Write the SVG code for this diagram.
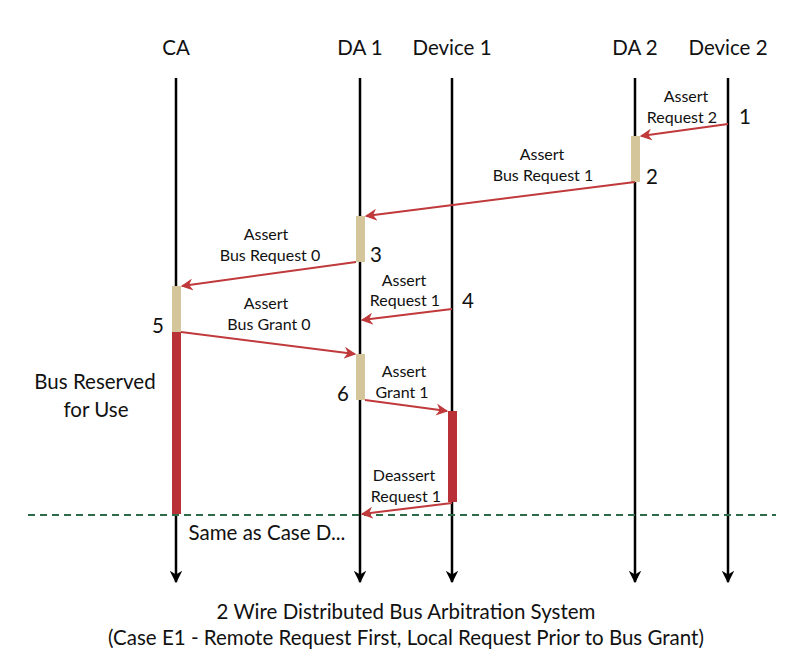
<svg xmlns="http://www.w3.org/2000/svg" width="804" height="664" viewBox="0 0 804 664">
<style>
text{font-family:Lato,"Open Sans","Liberation Sans",sans-serif;fill:#111;text-anchor:middle}
.h{font-size:20.5px}
.l{font-size:16px}
.n{font-size:20.5px}
.t{font-size:20.5px}
.life{stroke:#000;stroke-width:2.5}
.msg{stroke:#c0393b;stroke-width:2;fill:none}
.act{fill:#d4c59a}
.busy{fill:#b93036}
</style>
<defs>
<marker id="bk" viewBox="0 0 10 10" refX="9" refY="5" markerWidth="5" markerHeight="5" orient="auto" markerUnits="strokeWidth"><path d="M0,0 L10,5 L0,10 L3,5 Z" fill="#000"/></marker>
<marker id="rd" viewBox="0 0 10 10" refX="9" refY="5" markerWidth="6" markerHeight="6" orient="auto" markerUnits="strokeWidth"><path d="M0,0 L10,5 L0,10 L3,5 Z" fill="#c0393b"/></marker>
</defs>
<g id="lifelines">
<g id="ca"><text class="h" x="176" y="55">CA</text><line class="life" x1="176" y1="78" x2="176" y2="582" marker-end="url(#bk)"/></g>
<g id="da1"><text class="h" x="360" y="55">DA 1</text><line class="life" x1="360" y1="78" x2="360" y2="582" marker-end="url(#bk)"/></g>
<g id="dev1"><text class="h" x="452" y="55">Device 1</text><line class="life" x1="452" y1="78" x2="452" y2="582" marker-end="url(#bk)"/></g>
<g id="da2"><text class="h" x="635" y="55">DA 2</text><line class="life" x1="635" y1="78" x2="635" y2="582" marker-end="url(#bk)"/></g>
<g id="dev2"><text class="h" x="728" y="55">Device 2</text><line class="life" x1="728" y1="78" x2="728" y2="582" marker-end="url(#bk)"/></g>
</g>
<g id="activations">
<rect class="act" x="631" y="136" width="9" height="46"/>
<rect class="act" x="356" y="216" width="9" height="46"/>
<rect class="act" x="172" y="286" width="9" height="46"/>
<rect class="act" x="356" y="354" width="9" height="46"/>
<rect class="busy" x="172" y="332" width="9" height="182"/>
<rect class="busy" x="448" y="411" width="9" height="91"/>
</g>
<line x1="28" y1="515" x2="776" y2="515" stroke="#2e6b4a" stroke-width="2" stroke-dasharray="7,5"/>
<g id="connectors">
<line class="msg" x1="728" y1="124" x2="641" y2="136" marker-end="url(#rd)"/>
<line class="msg" x1="635" y1="182" x2="366" y2="216" marker-end="url(#rd)"/>
<line class="msg" x1="356" y1="262" x2="182" y2="286" marker-end="url(#rd)"/>
<line class="msg" x1="452" y1="309" x2="362" y2="320" marker-end="url(#rd)"/>
<line class="msg" x1="181" y1="332" x2="355" y2="354" marker-end="url(#rd)"/>
<line class="msg" x1="365" y1="400" x2="447" y2="411" marker-end="url(#rd)"/>
<line class="msg" x1="452" y1="503" x2="362" y2="514" marker-end="url(#rd)"/>
</g>
<g id="labels">
<text class="l" x="686" y="102">Assert</text><text class="l" x="682" y="123">Request 2</text><text class="n" x="745" y="124">1</text>
<text class="l" x="542" y="160">Assert</text><text class="l" x="543" y="181">Bus Request 1</text><text class="n" x="652" y="184">2</text>
<text class="l" x="266" y="240">Assert</text><text class="l" x="270" y="261">Bus Request 0</text><text class="n" x="376" y="262">3</text>
<text class="l" x="404" y="286">Assert</text><text class="l" x="405" y="306">Request 1</text><text class="n" x="468" y="308">4</text>
<text class="l" x="266" y="309">Assert</text><text class="l" x="269" y="330">Bus Grant 0</text><text class="n" x="158" y="333">5</text>
<text class="l" x="404" y="377">Assert</text><text class="l" x="402" y="398">Grant 1</text><text class="n" x="343" y="401">6</text>
<text class="l" x="404" y="481">Deassert</text><text class="l" x="406" y="502">Request 1</text>
<text class="n" x="95" y="389">Bus Reserved</text><text class="n" x="96" y="417">for Use</text>
<text class="n" x="267" y="540">Same as Case D...</text>
<text class="t" x="406" y="619">2 Wire Distributed Bus Arbitration System</text>
<text class="t" x="406" y="645">(Case E1 - Remote Request First, Local Request Prior to Bus Grant)</text>
</g>
</svg>
